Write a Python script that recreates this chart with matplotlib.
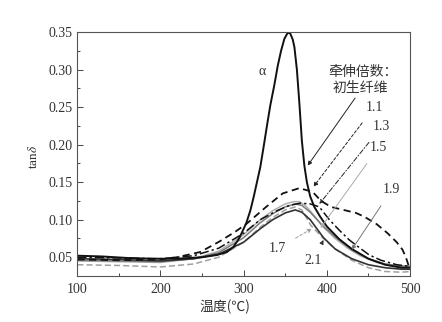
import numpy as np
import matplotlib
matplotlib.use('Agg')
import matplotlib.pyplot as plt

plt.rcParams['font.family'] = ['Liberation Serif', 'Noto Sans CJK SC', 'DejaVu Sans']
plt.rcParams['mathtext.fontset'] = 'stix'

# temperature (°C) / tan delta readings for each draw ratio
t_spun = [100, 130, 160, 190, 220, 250, 268, 280, 288, 295, 303, 308, 312, 316, 320, 324, 328, 332,
          337, 341, 345, 349, 353, 356, 359, 361, 364, 367, 370, 373, 376, 380, 385, 392, 400, 415,
          430, 450, 470, 490, 500]
v_spun = [0.052, 0.051, 0.049, 0.048, 0.048, 0.050, 0.053, 0.057, 0.064, 0.076, 0.095, 0.112, 0.130,
          0.150, 0.170, 0.197, 0.225, 0.252, 0.280, 0.305, 0.325, 0.341, 0.349, 0.348, 0.340, 0.330,
          0.300, 0.255, 0.205, 0.172, 0.150, 0.131, 0.117, 0.104, 0.091, 0.074, 0.061, 0.048, 0.040,
          0.036, 0.036]

t_11 = [100, 150, 200, 220, 248, 271, 290, 304, 327, 347, 367, 383, 393, 405, 420, 435, 445, 460,
        473, 484, 491, 495, 498, 500]
v_11 = [0.047, 0.046, 0.047, 0.050, 0.057, 0.071, 0.084, 0.095, 0.117, 0.135, 0.142, 0.137, 0.125,
        0.117, 0.113, 0.109, 0.104, 0.094, 0.082, 0.070, 0.060, 0.050, 0.040, 0.037]

t_13 = [100, 150, 200, 240, 270, 300, 320, 340, 355, 368, 380, 391, 403, 415, 427, 440, 451, 465,
        484, 500]
v_13 = [0.050, 0.049, 0.048, 0.052, 0.062, 0.082, 0.100, 0.112, 0.119, 0.122, 0.121, 0.117, 0.100,
        0.086, 0.073, 0.062, 0.053, 0.046, 0.040, 0.038]

t_15 = [100, 150, 200, 240, 270, 300, 320, 335, 350, 360, 367, 375, 385, 394, 410, 425, 440, 460,
        480, 500]
v_15 = [0.045, 0.044, 0.043, 0.048, 0.058, 0.080, 0.100, 0.112, 0.121, 0.124, 0.124, 0.118, 0.105,
        0.092, 0.075, 0.062, 0.052, 0.043, 0.039, 0.038]

t_17 = [100, 150, 200, 240, 270, 300, 320, 335, 350, 362, 370, 381, 395, 410, 430, 450, 470, 490, 500]
v_17 = [0.040, 0.039, 0.037, 0.041, 0.050, 0.070, 0.090, 0.103, 0.113, 0.117, 0.113, 0.092, 0.076,
        0.061, 0.046, 0.036, 0.031, 0.030, 0.031]

t_19 = [100, 150, 200, 240, 270, 300, 320, 335, 350, 362, 370, 380, 395, 410, 430, 450, 470, 490, 500]
v_19 = [0.046, 0.045, 0.044, 0.048, 0.056, 0.076, 0.096, 0.108, 0.117, 0.121, 0.119, 0.110, 0.092,
        0.077, 0.060, 0.048, 0.041, 0.038, 0.038]

t_21 = [100, 150, 200, 240, 270, 300, 320, 335, 350, 362, 370, 380, 396, 410, 430, 450, 470, 490, 500]
v_21 = [0.048, 0.047, 0.045, 0.048, 0.054, 0.070, 0.088, 0.100, 0.109, 0.113, 0.110, 0.100, 0.076,
        0.061, 0.048, 0.040, 0.036, 0.034, 0.034]

fig = plt.figure(figsize=(4.42, 3.22), dpi=100)
ax = fig.add_axes([0.1749, 0.1429, 0.7527, 0.7578])

ax.plot(t_15, v_15, color='#b0b0b0', lw=1.1)
ax.plot(t_17, v_17, color='#a0a0a0', lw=1.1, ls=(0, (4, 2)))
ax.plot(t_19, v_19, color='#7a7a7a', lw=1.1)
ax.plot(t_21, v_21, color='#333333', lw=1.2)
ax.plot(t_13, v_13, color='#111111', lw=1.1, ls=(0, (6, 2, 1.5, 2)))
ax.plot(t_11, v_11, color='#111111', lw=1.3, ls=(0, (4, 2.5)))
ax.plot(t_spun, v_spun, color='#111111', lw=1.4)

ax.set_xlim(100, 500)
ax.set_ylim(0.025, 0.35)
ax.set_xticks([100, 200, 300, 400, 500])
ax.set_xticks([150, 250, 350, 450], minor=True)
ax.set_yticks([0.05, 0.10, 0.15, 0.20, 0.25, 0.30, 0.35])
ax.set_yticks(np.arange(0.075, 0.35, 0.05), minor=True)
ax.yaxis.set_major_formatter(matplotlib.ticker.FormatStrFormatter('%.2f'))
ax.tick_params(which='both', direction='in', color='#444444', labelcolor='#333333', labelsize=10)
ax.tick_params(which='major', length=4, width=0.7)
ax.tick_params(which='minor', length=2.5, width=0.7)
ax.tick_params(axis='x', pad=5)
for s in ax.spines.values():
    s.set_color('#555555')
    s.set_linewidth(0.8)

ax.set_xlabel('温度(℃)', fontsize=10, color='#333333', family=['Noto Sans CJK SC'])
ax.xaxis.set_label_coords(0.444, -0.095)
ax.set_ylabel(r'tan$\delta$', fontsize=9.5, color='#333333')
ax.yaxis.set_label_coords(-0.112, 0.49)

cjk = ['Noto Sans CJK SC']
ax.text(322, 0.297, 'α', fontsize=10, color='#333333', ha='center', va='center')
ax.text(444, 0.297, '牵伸倍数：', fontsize=10, color='#333333', ha='center', va='center', family=cjk)
ax.text(440, 0.276, '初生纤维', fontsize=10, color='#333333', ha='center', va='center', family=cjk)


def label(txt, xy, xytext, color, ls='-'):
    ax.annotate(txt, xy=xy, xytext=xytext, fontsize=10, color='#333333', ha='center', va='center',
                arrowprops=dict(arrowstyle='-|>', mutation_scale=6, lw=0.7, color=color, ls=ls,
                                shrinkA=6, shrinkB=0))


label('1.1', (384, 0.144), (457, 0.250), '#222222', (0, (3, 2)))
label('1.3', (391, 0.121), (466, 0.224), '#222222', (0, (5, 2, 1, 2)))
label('1.5', (392.5, 0.089), (462, 0.196), '#aaaaaa')
label('1.9', (430, 0.060), (478, 0.140), '#777777')
label('1.7', (382, 0.088), (340, 0.061), '#a0a0a0', (0, (3, 2)))
label('2.1', (396, 0.073), (384, 0.046), '#333333')
ax.annotate('', xy=(377, 0.172), xytext=(434, 0.262),
            arrowprops=dict(arrowstyle='-|>', mutation_scale=6, lw=0.7, color='#222222', shrinkA=0, shrinkB=0))

fig.savefig('out.png', dpi=100)
